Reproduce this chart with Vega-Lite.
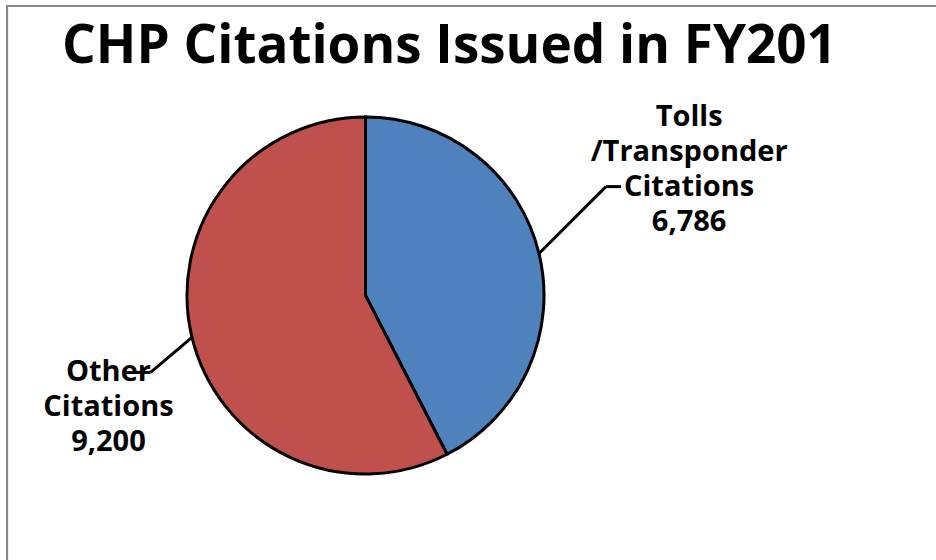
{
  "$schema": "https://vega.github.io/schema/vega-lite/v6.json",
  "autosize": "none",
  "width": 357,
  "height": 357,
  "padding": {"left": 187, "top": 117, "right": 392, "bottom": 86},
  "background": "white",
  "config": {"view": {"stroke": null}},
  "title": {
    "text": "CHP Citations Issued in FY201",
    "font": "Open Sans",
    "fontSize": 53,
    "fontWeight": "bold",
    "color": "black",
    "anchor": "middle",
    "dx": 84,
    "offset": 0,
    "dy": 69
  },
  "data": {
    "values": [
      {"category": "Tolls /Transponder Citations", "value": 6786},
      {"category": "Other Citations", "value": 9200}
    ]
  },
  "transform": [
    {"joinaggregate": [{"op": "sum", "field": "value", "as": "total"}]},
    {"stack": "value", "groupby": [], "sort": [{"field": "value", "order": "ascending"}], "as": ["s0", "s1"]},
    {"calculate": "datum.category + ' ' + format(datum.value, ',')", "as": "label"},
    {"calculate": "PI * (datum.s0 + datum.s1) / datum.total", "as": "mid"},
    {"calculate": "sin(datum.mid)", "as": "px"},
    {"calculate": "cos(datum.mid)", "as": "py"},
    {"calculate": "datum.px > 0 ? 1 : -1", "as": "sg"},
    {"calculate": "datum.px + (datum.sg > 0 ? 0.375 : -0.232)", "as": "cx"},
    {"calculate": "datum.py + (datum.sg > 0 ? 0.375 : -0.196)", "as": "cy"},
    {"calculate": "datum.cx + datum.sg * 0.085", "as": "ex"},
    {"calculate": "datum.ex + (datum.sg > 0 ? 0.381 : -0.151)", "as": "lx"},
    {"calculate": "datum.cy + (datum.sg > 0 ? 0.342 : -0.05)", "as": "ly"}
  ],
  "layer": [
    {
      "mark": {"type": "rect", "fill": null, "stroke": "#888888", "strokeWidth": 2},
      "encoding": {
        "x": {"datum": -2.008, "type": "quantitative", "scale": {"domain": [-1, 1], "nice": false, "zero": false}, "axis": null},
        "x2": {"datum": 4},
        "y": {"datum": 1.622, "type": "quantitative", "scale": {"domain": [-1, 1], "nice": false, "zero": false}, "axis": null},
        "y2": {"datum": -3}
      }
    },
    {
      "mark": {"type": "arc", "stroke": "black", "strokeWidth": 3},
      "encoding": {
        "theta": {"field": "value", "type": "quantitative", "stack": true},
        "order": {"field": "value", "type": "quantitative", "sort": "ascending"},
        "color": {
          "field": "category",
          "type": "nominal",
          "scale": {"domain": ["Tolls /Transponder Citations", "Other Citations"], "range": ["#4F81BD", "#C0504D"]},
          "legend": null
        }
      }
    },
    {
      "mark": {"type": "rule", "stroke": "black", "strokeWidth": 3},
      "encoding": {
        "x": {"field": "px", "type": "quantitative"},
        "y": {"field": "py", "type": "quantitative"},
        "x2": {"field": "cx"},
        "y2": {"field": "cy"}
      }
    },
    {
      "mark": {"type": "rule", "stroke": "black", "strokeWidth": 3},
      "encoding": {
        "x": {"field": "cx", "type": "quantitative"},
        "y": {"field": "cy", "type": "quantitative"},
        "x2": {"field": "ex"},
        "y2": {"field": "cy"}
      }
    },
    {
      "mark": {"type": "text", "font": "Open Sans", "fontSize": 29, "fontWeight": "bold", "color": "black", "align": "center", "baseline": "alphabetic", "lineBreak": " ", "lineHeight": 35},
      "encoding": {
        "x": {"field": "lx", "type": "quantitative"},
        "y": {"field": "ly", "type": "quantitative"},
        "text": {"field": "label", "type": "nominal"}
      }
    }
  ]
}
